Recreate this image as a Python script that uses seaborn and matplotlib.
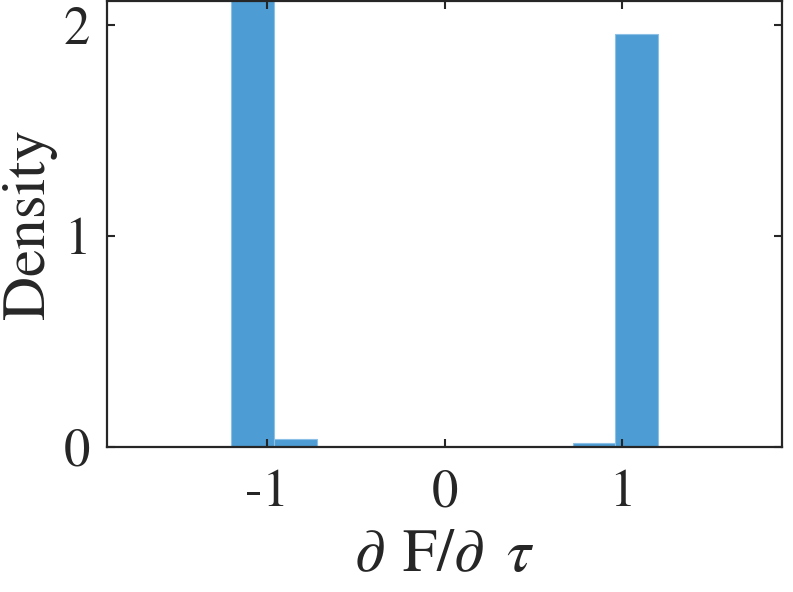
import numpy as np
import pandas as pd
import matplotlib
matplotlib.use("Agg")
import matplotlib.pyplot as plt
import seaborn as sns

# Data (density per bin)
bin_edges = [-1.2, -0.96, -0.72, -0.48, -0.24, 0.0, 0.24, 0.48, 0.72, 0.96, 1.2]
densities = [2.157, 0.0365, 0.0, 0.0, 0.0, 0.0, 0.0, 0.0, 0.016, 1.957]
x_ticks = [-1, 0, 1]
x_tick_labels = ["-1", "0", "1"]
y_ticks = [0, 1, 2]
y_tick_labels = ["0", "1", "2"]

sns.set_theme(style="white")
plt.rcParams["font.family"] = ["STIXGeneral", "Liberation Serif", "DejaVu Serif"]
plt.rcParams["mathtext.fontset"] = "stix"
plt.rcParams["axes.unicode_minus"] = False

centers = [(bin_edges[i] + bin_edges[i + 1]) / 2 for i in range(len(densities))]
df = pd.DataFrame({"x": centers, "w": densities})

fig = plt.figure(figsize=(7.93, 5.92), dpi=100)
ax = fig.add_axes([0.1346, 0.2454, 0.8519, 0.7529])

sns.histplot(data=df, x="x", weights="w", bins=bin_edges, stat="count",
             color="#4D9DD4", alpha=1.0, edgecolor="#8CC0E6", linewidth=0.8,
             ax=ax)

ax.set_xlim(-1.9, 1.9)
ax.set_ylim(0, 2.114)
ax.set_xticks(x_ticks)
ax.set_xticklabels(x_tick_labels)
ax.set_yticks(y_ticks)
ax.set_yticklabels(y_tick_labels)

ax.tick_params(axis="both", which="both", direction="in", length=6, width=1.5,
               color="#262626", labelsize=38, labelcolor="#262626",
               top=True, right=True, bottom=True, left=True)
ax.tick_params(axis="x", pad=16)
ax.tick_params(axis="y", pad=12)

for s in ax.spines.values():
    s.set_visible(True)
    s.set_linewidth(1.6)
    s.set_color("#262626")

ax.set_xlabel(r"$\partial\;\,$F/$\partial\;\;\tau$", fontsize=44, color="#262626", labelpad=8)
ax.set_ylabel("Density", fontsize=44, color="#262626", labelpad=5)
ax.set_axisbelow(False)

fig.savefig("out.png", dpi=100)
